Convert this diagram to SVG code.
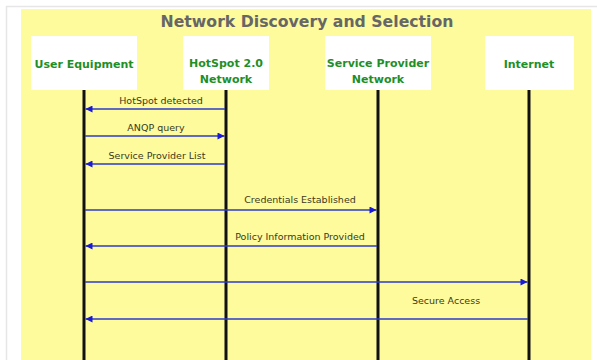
<svg xmlns="http://www.w3.org/2000/svg" width="597" height="360" viewBox="0 0 597 360">
<style>
.title{font-family:"DejaVu Sans",sans-serif;font-weight:bold;font-size:15.7px;fill:#666;text-anchor:middle}
.box{fill:#fff;stroke:none}
.nl{font-family:"DejaVu Sans",sans-serif;font-weight:bold;font-size:11px;fill:#1f8f28;text-anchor:middle}
.life{stroke:#111;stroke-width:3}
.msg{stroke:#2a3acc;stroke-width:1.3;fill:none;marker-end:url(#ah)}
.ml{font-family:"DejaVu Sans",sans-serif;font-size:9.5px;fill:#3a3a22;text-anchor:middle}
</style>
<defs>
<marker id="ah" viewBox="0 0 10 10" refX="10" refY="5" markerWidth="9" markerHeight="7" markerUnits="userSpaceOnUse" orient="auto">
<path d="M0,0 L10,5 L0,10 Z" fill="#1a1ad6"/>
</marker>
</defs>
<rect x="0" y="0" width="597" height="360" fill="#fff"/>
<path d="M6.5,360 V6.5 H597" fill="none" stroke="#e6e6e6" stroke-width="1.5"/>
<rect x="21" y="9" width="570" height="351" fill="#fefb9c"/>
<text class="title" x="307" y="27">Network Discovery and Selection</text>
<g id="node-ue">
<rect class="box" x="31" y="36" width="106" height="54"/>
<text class="nl" x="84" y="68">User Equipment</text>
<line class="life" x1="84" y1="90" x2="84" y2="360"/>
</g>
<g id="node-hotspot">
<rect class="box" x="183" y="36" width="86" height="54"/>
<text class="nl" x="226" y="67">HotSpot 2.0</text>
<text class="nl" x="226" y="83">Network</text>
<line class="life" x1="226" y1="90" x2="226" y2="360"/>
</g>
<g id="node-sp">
<rect class="box" x="325" y="36" width="106" height="54"/>
<text class="nl" x="378" y="67">Service Provider</text>
<text class="nl" x="378" y="83">Network</text>
<line class="life" x1="378" y1="90" x2="378" y2="360"/>
</g>
<g id="node-internet">
<rect class="box" x="485" y="36" width="89" height="54"/>
<text class="nl" x="529" y="68">Internet</text>
<line class="life" x1="529" y1="90" x2="529" y2="360"/>
</g>
<g id="connectors">
<line class="msg" x1="225" y1="109" x2="85.5" y2="109"/>
<text class="ml" x="161" y="104">HotSpot detected</text>
<line class="msg" x1="85" y1="136" x2="224.5" y2="136"/>
<text class="ml" x="156" y="131">ANQP query</text>
<line class="msg" x1="225" y1="164" x2="85.5" y2="164"/>
<text class="ml" x="157" y="159">Service Provider List</text>
<line class="msg" x1="85" y1="210" x2="376.5" y2="210"/>
<text class="ml" x="300" y="203">Credentials Established</text>
<line class="msg" x1="377" y1="246" x2="85.5" y2="246"/>
<text class="ml" x="300" y="240">Policy Information Provided</text>
<line class="msg" x1="85" y1="282" x2="527.5" y2="282"/>
<line class="msg" x1="528" y1="319" x2="85.5" y2="319"/>
<text class="ml" x="446" y="304">Secure Access</text>
</g>
</svg>
